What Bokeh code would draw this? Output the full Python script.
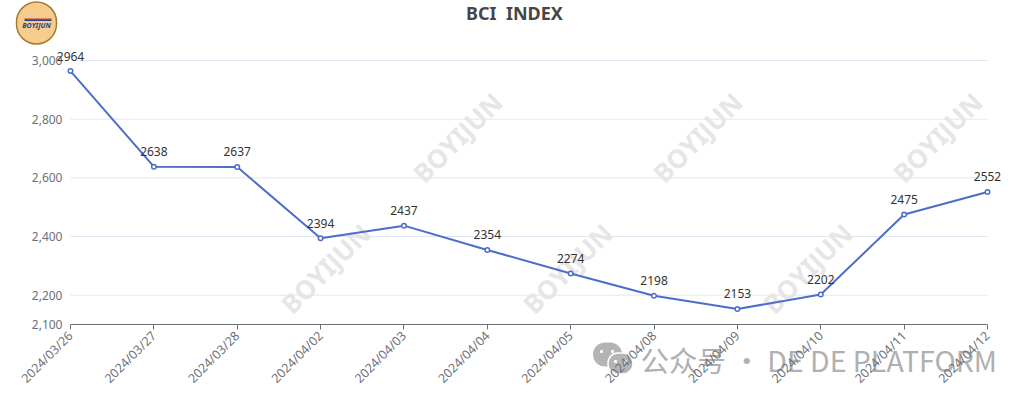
from bokeh.plotting import figure
from bokeh.embed import file_html
from bokeh.resources import INLINE
from bokeh.models import FixedTicker, NumeralTickFormatter, Label, Range1d, ColumnDataSource, BoxAnnotation
from bokeh.core.properties import value
import math

dates = ["2024/03/26", "2024/03/27", "2024/03/28", "2024/04/02", "2024/04/03", "2024/04/04",
         "2024/04/05", "2024/04/08", "2024/04/09", "2024/04/10", "2024/04/11", "2024/04/12"]
bci = [2964, 2638, 2637, 2394, 2437, 2354, 2274, 2198, 2153, 2202, 2475, 2552]
y_ticks = [2100, 2200, 2400, 2600, 2800, 3000]
title_text = "BCI\u00a0\u00a0INDEX"
watermark = "BOYIJUN"
footer = "公众号 · DE DE PLATFORM"

W, H = 1012, 392
PL, PR, PT, PB = 70, 987, 60, 324   # plot area in page pixels
FONT = "Noto Sans"
idx = list(range(len(dates)))
n1 = len(dates) - 1
x_per_px = n1 / (PR - PL)
y_per_px = (y_ticks[-1] - y_ticks[0]) / (PB - PT)

# The frame fills the canvas, so that logo, title and footer are not clipped;
# the ranges are chosen so that the plot area stays where the reference has it.
p = figure(width=W, height=H, output_backend="svg", toolbar_location=None,
           x_range=Range1d(-PL * x_per_px, (W - PL) * x_per_px),
           y_range=Range1d(y_ticks[0] - (H - PB) * y_per_px, y_ticks[-1] + PT * y_per_px),
           min_border=0)
p.outline_line_color = None
p.background_fill_color = "white"

def label(px, py, text, level="overlay", **kw):
    return Label(x=px, y=py, x_units="canvas", y_units="canvas", text=text, level=level, **kw)

def box(left, right, top, bottom, fill, line=None, lw=0, radius=0, level="overlay"):
    return BoxAnnotation(left=left, right=right, top=top, bottom=bottom,
                         left_units="canvas", right_units="canvas", top_units="canvas", bottom_units="canvas",
                         fill_color=fill, fill_alpha=1, line_color=line, line_width=lw, line_alpha=1,
                         border_radius=radius, level=level)

def disc(cx, cy, rx, ry, fill, line=None, lw=0, level="overlay"):
    return box(cx - rx, cx + rx, cy - ry, cy + ry, fill, line, lw, int(min(rx, ry)), level)

p.xgrid.visible = False
p.ygrid.visible = False
p.segment([0] * len(y_ticks), y_ticks, [n1] * len(y_ticks), y_ticks,
          line_color="#e0e6f1", line_width=1, level="underlay")

ya = p.yaxis[0]
ya.fixed_location = 0
ya.ticker = FixedTicker(ticks=y_ticks)
ya.formatter = NumeralTickFormatter(format="0,0")
ya.axis_line_color = None
ya.major_tick_line_color = None
ya.minor_tick_line_color = None
ya.major_label_text_color = "#6e7079"
ya.major_label_text_font = FONT
ya.major_label_text_font_size = "12px"
ya.major_label_standoff = 2

xa = p.xaxis[0]
xa.fixed_location = y_ticks[0]
xa.bounds = (0, n1)
xa.ticker = FixedTicker(ticks=idx)
xa.major_label_overrides = {i: d for i, d in zip(idx, dates)}
xa.axis_line_color = "#6e7079"
xa.major_tick_line_color = "#6e7079"
xa.major_tick_in = 0
xa.major_tick_out = 5
xa.minor_tick_line_color = None
xa.major_label_orientation = math.pi / 4
xa.major_label_text_color = "#6e7079"
xa.major_label_text_font = FONT
xa.major_label_text_font_size = "12.5px"
xa.major_label_standoff = 4

for cx, cy in [(457, 137), (697, 137), (937, 137), (325, 268), (567, 268), (807, 268)]:
    p.add_layout(label(cx, cy, watermark, level="underlay", angle=45, angle_units="deg",
                       text_align="center", text_baseline="middle", text_color="#e6e6e6",
                       text_font=FONT, text_font_size="26px", text_font_style="bold"))

src = ColumnDataSource(dict(x=idx, y=bci, t=[str(v) for v in bci]))
p.line("x", "y", source=src, line_color="#4e6cc9", line_width=2, level="overlay")
p.scatter("x", "y", source=src, size=4.5, fill_color="white", line_color="#4e6cc9",
          line_width=1.5, level="overlay")
p.text("x", "y", text="t", source=src, text_align="center", text_baseline="alphabetic",
       y_offset=-15, text_color="#333333", text_font=value(FONT), text_font_size="12px",
       level="overlay")

p.add_layout(label(514, 12, title_text, text_align="center", text_baseline="middle",
                   text_color="#464646", text_font=FONT, text_font_size="18px", text_font_style="bold"))

# logo
p.add_layout(disc(36, 22.5, 20, 21, "#f6cd8c", "#a87a30", 1.5))
p.add_layout(box(24, 51, 18, 19.5, "#c0392b"))
p.add_layout(box(24, 51, 19.5, 20.5, "#27408b"))
p.add_layout(label(36, 24.5, "BOYIJUN", text_align="center", text_baseline="middle",
                   text_color="#27408b", text_font=FONT, text_font_size="7px", text_font_style="bold italic"))

# footer, under the axis labels
p.add_layout(disc(607, 354, 14.5, 12, "#b4b4b4", level="underlay"))
p.add_layout(disc(620, 363, 12.5, 10.5, "#b4b4b4", "white", 1.5, level="underlay"))
for ex, ey in [(601, 351), (612, 351), (615, 361), (625, 361)]:
    p.add_layout(disc(ex, ey, 1.5, 1.5, "white", level="underlay"))
p.add_layout(label(640, 359, footer, level="underlay", text_align="left", text_baseline="middle",
                   text_color="#b0b0b0", text_font="Noto Sans CJK SC", text_font_size="28.5px"))

open("out.html", "w").write(file_html(p, INLINE))
